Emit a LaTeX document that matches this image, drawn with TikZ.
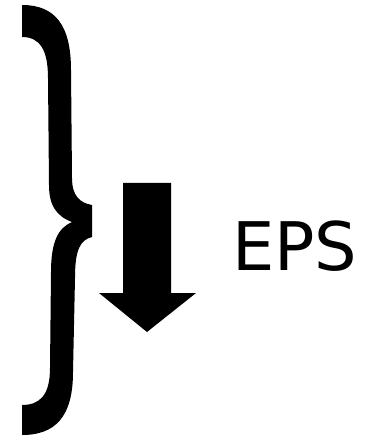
\documentclass[tikz,border=0pt]{standalone}
\usepackage{fontspec}
\setmainfont{DejaVu Sans}
\begin{document}
\begin{tikzpicture}[x=1pt,y=-1pt,
  shapefill/.style={fill=black,draw=none},
  label/.style={font=\fontsize{67}{67}\selectfont,inner sep=0pt,anchor=base west}]
\useasboundingbox (0,0) rectangle (370,438);
% curly brace
\path[shapefill] (22,5) .. controls (55,5) and (71,25) .. (71,70) -- (72,178)
  .. controls (72,196) and (80,203) .. (92,205) -- (92,237)
  .. controls (80,240) and (75,250) .. (75,278) -- (73,372)
  .. controls (73,417) and (55,435) .. (22,435) -- (22,405)
  .. controls (40,405) and (50,395) .. (50,368) -- (51,272)
  .. controls (51,242) and (58,228) .. (72,222)
  .. controls (56,216) and (49,205) .. (49,185) -- (48,78)
  .. controls (48,50) and (40,37) .. (22,37) -- cycle;
% arrow
\path[shapefill] (123,183) -- (171,183) -- (171,293) -- (196,293) -- (147,332) -- (99,293) -- (123,293) -- cycle;
\node[label] (eps) at (232,270) {EPS};
\end{tikzpicture}
\end{document}
